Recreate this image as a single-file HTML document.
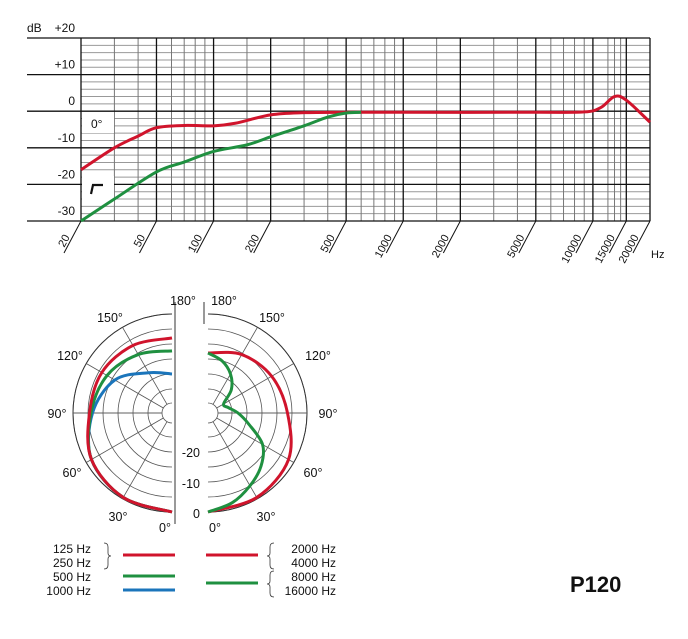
<!DOCTYPE html>
<html><head><meta charset="utf-8"><style>
body{margin:0;background:#fff;}
svg{display:block;font-family:"Liberation Sans",Arial,sans-serif;}
</style></head><body>
<svg id="c" width="688" height="639" viewBox="0 0 688 639"></svg>
<script>
// ---- frequency response data ----
const freqTicks=[20,50,100,200,500,1000,2000,5000,10000,15000,20000];
const dbTicks=[20,10,0,-10,-20,-30];
const redFreq=[20,30,40,50,70,100,130,200,300,500,1000,5000,9000,11000,13000,15000,20000];
const redDb=[-16,-10,-6.8,-4.5,-3.9,-4,-3.3,-1,-0.4,-0.3,-0.3,-0.3,-0.2,1,4,3,-3];
const greenFreq=[20,30,50,70,100,150,200,300,400,500,600];
const greenDb=[-30,-24,-16.6,-13.9,-11,-9.2,-7,-4,-1.6,-0.5,-0.3];
// ---- polar data (angle deg, dB) ----
const polarAngles=[0,30,60,90,120,150,180];
const lowRed=[0,-0.5,-2,-5.5,-6,-7,-8];
const lowGreen=[0,-0.5,-2,-6,-8,-10.5,-12.3];
const lowBlue=[0,-0.5,-2,-6.5,-11,-17.5,-20];
const hiRed=[0,-0.5,-2,-6.5,-8.5,-10.5,-13];
const hiAngles=[0,15,30,45,60,75,90,105,120,135,150,165,180];
const hiGreen=[0,-2,-5,-8,-12,-19,-23,-26,-27,-22,-18,-15,-13];

const NS='http://www.w3.org/2000/svg';
const svg=document.getElementById('c');
function el(t,a,p){const e=document.createElementNS(NS,t);for(const k in a)e.setAttribute(k,a[k]);(p||svg).appendChild(e);return e;}
function txt(x,y,s,a){const e=el('text',Object.assign({x:x,y:y,'font-size':12,fill:'#111'},a||{}));e.textContent=s;return e;}
const X0=81,X1=650,Y0=38,Y1=221;
const xs=f=>X0+(X1-X0)*Math.log10(f/20)/3;
const ys=d=>Y0+(20-d)*(Y1-Y0)/50;
function smooth(pts){let d='M'+pts[0][0]+','+pts[0][1];for(let i=0;i<pts.length-1;i++){const p0=pts[i-1]||pts[i],p1=pts[i],p2=pts[i+1],p3=pts[i+2]||p2;d+=' C'+(p1[0]+(p2[0]-p0[0])/6)+','+(p1[1]+(p2[1]-p0[1])/6)+' '+(p2[0]-(p3[0]-p1[0])/6)+','+(p2[1]-(p3[1]-p1[1])/6)+' '+p2[0]+','+p2[1];}return d;}

const grid=el('g',{});
for(let d=-30;d<=20;d+=2){if(d%10===0)continue;el('line',{x1:X0,x2:X1,y1:ys(d),y2:ys(d),stroke:'#999','stroke-width':1},grid);}
const minors=[30,40,60,70,80,90,300,400,600,700,800,900,3000,4000,6000,7000,8000,9000,150,1500,12000,13000,14000];
minors.forEach(f=>el('line',{x1:xs(f),x2:xs(f),y1:Y0,y2:Y1,stroke:'#777','stroke-width':1},grid));
dbTicks.forEach(d=>el('line',{x1:27,x2:X1,y1:ys(d),y2:ys(d),stroke:'#111','stroke-width':1.3},grid));
freqTicks.forEach(f=>{const x=xs(f);el('line',{x1:x,x2:x,y1:Y0,y2:Y1,stroke:'#111','stroke-width':1.3},grid);
 el('line',{x1:x,y1:Y1,x2:x-17,y2:Y1+32,stroke:'#111','stroke-width':1},grid);
 const t=txt(x-11,Y1+16,String(f),{'font-size':11,'text-anchor':'end',transform:'rotate(-62 '+(x-11)+' '+(Y1+16)+')'});
 });
txt(651,258,'Hz',{'font-size':11});
dbTicks.forEach(d=>{const s=d>0?'+'+d:String(d);const t=txt(75,ys(d)-6,s,{'text-anchor':'end'});});
txt(27,32,'dB',{});
el('rect',{x:82,y:112,width:32,height:21,fill:'#fff'});txt(91,128,'0°',{'font-size':12});
el('rect',{x:82,y:176,width:32,height:28,fill:'#fff'});
el('path',{d:'M91,194 L93,185 L103,185',stroke:'#111','stroke-width':2.2,fill:'none'});
const rc=el('path',{d:smooth(redFreq.map((f,i)=>[xs(f),ys(redDb[i])])),stroke:'#d0142c','stroke-width':3,fill:'none'});

const gc=el('path',{d:smooth(greenFreq.map((f,i)=>[xs(f),ys(greenDb[i])])),stroke:'#1f9040','stroke-width':3,fill:'none'});


// ---- polar ----
const CY=413,CL=172,CR=208;
const rr=d=>99+3*d;
function polarPath(cx,side,angles,vals){return smooth(angles.map((a,i)=>{const r=rr(vals[i]),t=a*Math.PI/180;return [cx+side*r*Math.sin(t),CY+r*Math.cos(t)];}));}
[[CL,-1],[CR,1]].forEach(([cx,s])=>{const g=el('g',{});
 for(let d=0;d>=-25;d-=5){const r=rr(d);el('path',{d:'M'+cx+','+(CY-r)+' A'+r+','+r+' 0 0 '+(s<0?0:1)+' '+cx+','+(CY+r),stroke:'#555','stroke-width':0.8,fill:'none'},g);}
 const ro=rr(0);el('path',{d:'M'+cx+','+(CY-ro)+' A'+ro+','+ro+' 0 0 '+(s<0?0:1)+' '+cx+','+(CY+ro),stroke:'#333','stroke-width':1,fill:'none'},g);
 for(let a=30;a<=150;a+=30){const t=a*Math.PI/180;el('line',{x1:cx+s*10*Math.sin(t),y1:CY+10*Math.cos(t),x2:cx+s*ro*Math.sin(t),y2:CY+ro*Math.cos(t),stroke:'#555','stroke-width':0.8},g);}
 el('line',{x1:cx,y1:CY,x2:cx+s*ro,y2:CY,stroke:'#555','stroke-width':0.8},g);
 el('path',{d:'M'+cx+','+(CY-10)+' A10,10 0 0 '+(s<0?0:1)+' '+cx+','+(CY+10),fill:'#fff',stroke:'#555','stroke-width':0.8},g);
});
el('line',{x1:175,x2:175,y1:302,y2:524,stroke:'#999','stroke-width':2});
el('line',{x1:204,x2:204,y1:302,y2:324,stroke:'#999','stroke-width':2});
const pL=[['180°',183,305],['150°',110,322],['120°',70,360],['90°',57,418],['60°',72,477],['30°',118,521],['0°',165,532]];
pL.forEach(p=>{const t=txt(p[1],p[2],p[0],{'text-anchor':'middle','font-size':12.5});});
const pR=[['180°',224,305],['150°',272,322],['120°',318,360],['90°',328,418],['60°',313,477],['30°',266,521],['0°',215,532]];
pR.forEach(p=>{const t=txt(p[1],p[2],p[0],{'text-anchor':'middle','font-size':12.5});});
[['-20',457],['-10',488],['0',518]].forEach(p=>txt(200,p[1],p[0],{'text-anchor':'end','font-size':12.5}));
function pc(cx,s,ang,v,col,name){const p=el('path',{d:polarPath(cx,s,ang,v),stroke:col,'stroke-width':3,fill:'none'});}
pc(CL,-1,polarAngles,lowBlue,'#1b75bb','polar-1000hz');
pc(CL,-1,polarAngles,lowGreen,'#1f9040','polar-500hz');
pc(CL,-1,polarAngles,lowRed,'#d0142c','polar-125-250hz');
pc(CR,1,polarAngles,hiRed,'#d0142c','polar-2000-4000hz');
pc(CR,1,hiAngles,hiGreen,'#1f9040','polar-8000-16000hz');

// ---- legend ----
const lg=el('g',{});
[['125 Hz',553],['250 Hz',567],['500 Hz',581],['1000 Hz',595]].forEach(p=>{const t=txt(91,p[1],p[0],{'text-anchor':'end','font-size':12});lg.appendChild(t);});
[['2000 Hz',553],['4000 Hz',567],['8000 Hz',581],['16000 Hz',595]].forEach(p=>{const t=txt(336,p[1],p[0],{'text-anchor':'end','font-size':12});lg.appendChild(t);});
el('path',{d:'M104,543 q4,0 4,4 v6 q0,3 3,3 q-3,0 -3,3 v6 q0,4 -4,4',stroke:'#333',fill:'none','stroke-width':0.8},lg);
el('path',{d:'M274,543 q-4,0 -4,4 v6 q0,3 -3,3 q3,0 3,3 v6 q0,4 4,4',stroke:'#333',fill:'none','stroke-width':0.8},lg);
el('path',{d:'M274,571 q-4,0 -4,4 v6 q0,3 -3,3 q3,0 3,3 v6 q0,4 4,4',stroke:'#333',fill:'none','stroke-width':0.8},lg);
[[123,555,'#d0142c'],[123,576,'#1f9040'],[123,590,'#1b75bb'],[206,555,'#d0142c'],[206,583,'#1f9040']].forEach(l=>el('line',{x1:l[0],x2:l[0]+52,y1:l[1],y2:l[1],stroke:l[2],'stroke-width':3},lg));
const ttl=txt(570,592,'P120',{'font-size':22,'font-weight':'bold'});
</script>
</body></html>
